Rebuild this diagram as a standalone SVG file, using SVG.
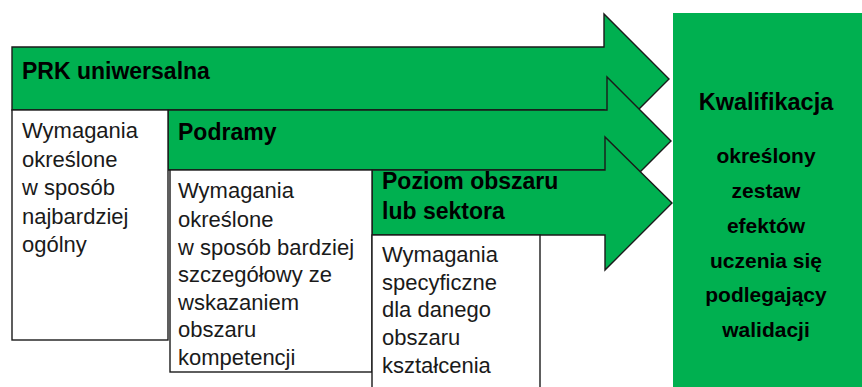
<svg xmlns="http://www.w3.org/2000/svg" width="862" height="387" viewBox="0 0 862 387">
<style>
.arrow{fill:#00B050;stroke:#1a1a1a;stroke-width:1.4;stroke-linejoin:miter}
.box{fill:#ffffff;stroke:#1a1a1a;stroke-width:1.4}
.h{font-family:"Liberation Sans",Arial,sans-serif;font-weight:bold;font-size:23px;fill:#000}
.t{font-family:"Liberation Sans",Arial,sans-serif;font-size:22px;fill:#1a1a1a}
.q{font-family:"Liberation Sans",Arial,sans-serif;font-weight:bold;font-size:21px;fill:#000;text-anchor:middle}
</style>
<rect width="862" height="387" fill="#ffffff"/>
<g id="kwalifikacja">
<rect x="673" y="13" width="189" height="374" fill="#00B050"/>
<text class="q" x="766" y="110" style="font-size:23.5px">Kwalifikacja</text>
<text class="q" x="766" y="163">określony</text>
<text class="q" x="766" y="198">zestaw</text>
<text class="q" x="766" y="233">efektów</text>
<text class="q" x="766" y="268">uczenia się</text>
<text class="q" x="766" y="302">podlegający</text>
<text class="q" x="766" y="337">walidacji</text>
</g>
<g id="prk">
<polygon class="arrow" points="12,47 604,47 604,14 669,79 604,144 604,110 12,110"/>
<text class="h" x="22" y="79">PRK uniwersalna</text>
</g>
<g id="podramy">
<polygon class="arrow" points="168,110 607,110 607,77 671,141 607,205 607,170 168,170"/>
<text class="h" x="178" y="140">Podramy</text>
</g>
<g id="poziom">
<polygon class="arrow" points="372,170 605,170 605,137 672,203 605,270 605,235 372,235"/>
<text class="h" x="382" y="189">Poziom obszaru</text>
<text class="h" x="382" y="219">lub sektora</text>
</g>
<g id="box1">
<rect class="box" x="12" y="110" width="156" height="230"/>
<text class="t" x="22" y="138">Wymagania</text>
<text class="t" x="22" y="167">określone</text>
<text class="t" x="22" y="195">w sposób</text>
<text class="t" x="22" y="224">najbardziej</text>
<text class="t" x="22" y="252">ogólny</text>
</g>
<g id="box2">
<rect class="box" x="170" y="170" width="202" height="202"/>
<text class="t" x="178" y="198">Wymagania</text>
<text class="t" x="178" y="227">określone</text>
<text class="t" x="178" y="255">w sposób bardziej</text>
<text class="t" x="178" y="282">szczegółowy ze</text>
<text class="t" x="178" y="310">wskazaniem</text>
<text class="t" x="178" y="337">obszaru</text>
<text class="t" x="178" y="365">kompetencji</text>
</g>
<g id="box3">
<rect class="box" x="372" y="235" width="168" height="170"/>
<text class="t" x="382" y="262">Wymagania</text>
<text class="t" x="382" y="290">specyficzne</text>
<text class="t" x="382" y="317">dla danego</text>
<text class="t" x="382" y="345">obszaru</text>
<text class="t" x="382" y="373">kształcenia</text>
</g>
<g id="connectors"></g>
</svg>
